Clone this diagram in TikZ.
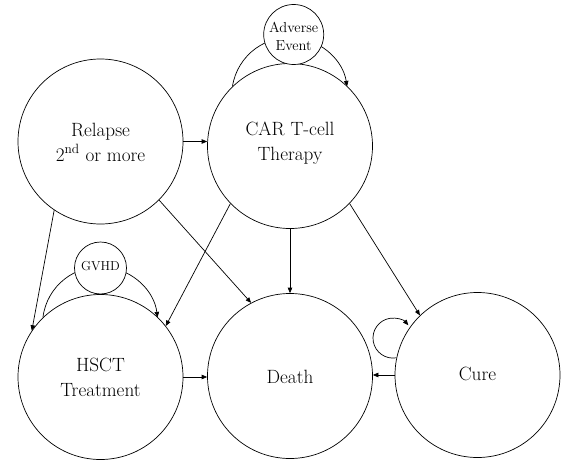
\documentclass[tikz,border=0pt]{standalone}
\usepackage{fontspec}
\usetikzlibrary{arrows.meta}
\newcommand\twoline[2]{\begin{tabular}[t]{@{}c@{}}#1\\#2\end{tabular}}
\begin{document}
\begin{tikzpicture}[x=1pt,y=1pt,
  state/.style={circle,draw,line width=0.7pt,minimum size=165pt,inner sep=0pt,fill=white,
    font=\fontsize{19.2}{25}\selectfont},
  smallstate/.style={circle,draw,line width=0.7pt,inner sep=0pt,fill=white},
  arr/.style={line width=0.7pt,-{Triangle[length=5.5pt,width=4.5pt]}},
]
\useasboundingbox (0,0) rectangle (568,-471);
\node[state,text height=0pt,text depth=11pt] (relapse) at (100.5,-141.5)
  {\twoline{Relapse}{2\textsuperscript{nd} or more}};
\node[state,text height=0pt,text depth=22pt] (car) at (290,-146) {\twoline{CAR T-cell}{Therapy}};
\node[state,text height=0pt,text depth=10.6pt] (hsct) at (100.5,-377) {\twoline{HSCT}{Treatment}};
\node[state,text height=14.6pt,text depth=0pt] (death) at (290,-376) {Death};
\node[state,text height=10pt,text depth=0pt] (cure) at (477.5,-375) {Cure};

% self loops
\draw[arr] (car.134) arc[start angle=171.1, end angle=8.9, radius=58pt];
\draw[arr] (hsct.134) arc[start angle=173, end angle=7, radius=57.7pt];
\draw[arr] (cure.168.4) arc[start angle=-80, end angle=-320, radius=20pt];

\node[smallstate,minimum size=60pt,text height=0pt,text depth=4.4pt,
  font=\fontsize{14.5}{17.7}\selectfont] (ae) at (293.7,-34.5)
  {\twoline{Adverse}{Event}};
\node[smallstate,minimum size=52pt,text height=5.4pt,text depth=0pt,
  font=\fontsize{13}{15}\selectfont] (gvhd) at (100.5,-268) {GVHD};

% transitions
\draw[arr] (relapse.east) -- (relapse.east -| car.west);
\draw[arr] (relapse.236.7) -- (hsct.146.6);
\draw[arr] (relapse.-45.7) -- (death.118.6);
\draw[arr] (car.224.9) -- (hsct.38.5);
\draw[arr] (car.south) -- (death.north);
\draw[arr] (car.-44.9) -- (cure.134.6);
\draw[arr] (cure.west) -- (cure.west -| death.east);
\draw[arr] (hsct.east) -- (hsct.east -| death.west);
\end{tikzpicture}
\end{document}
